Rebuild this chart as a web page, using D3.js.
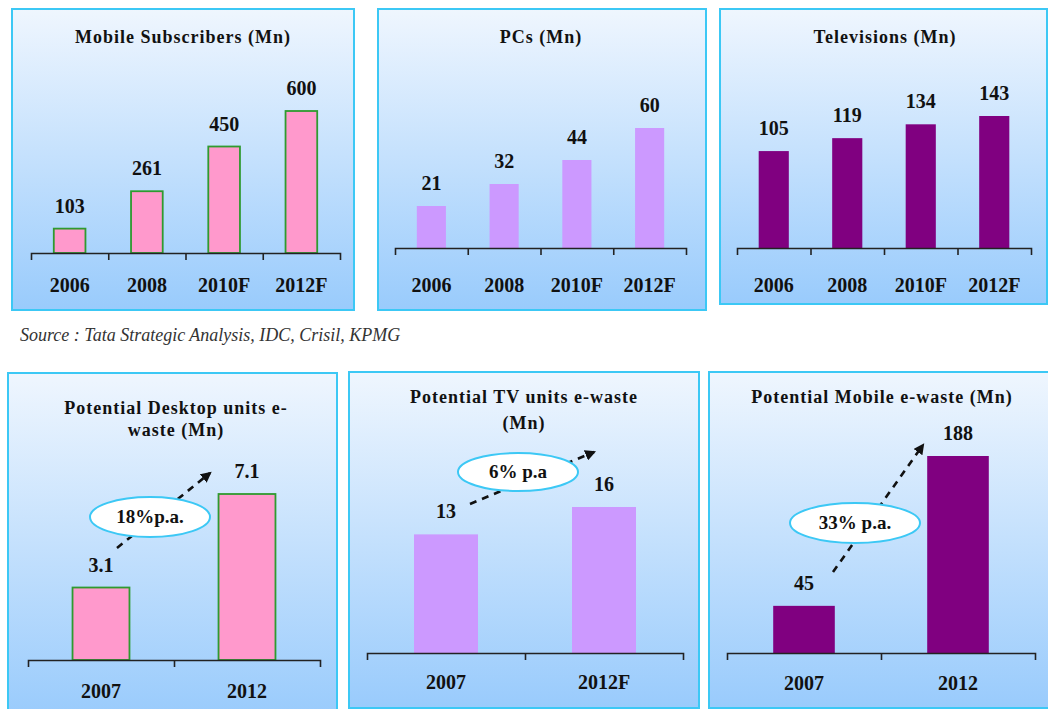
<!DOCTYPE html>
<html><head><meta charset="utf-8">
<script src="https://cdn.jsdelivr.net/npm/d3@7"></script>
<style>
body{margin:0;background:#fff}
svg{display:block}
svg text{font-family:"Liberation Serif","Times New Roman",Times,serif}
</style>
</head><body>
<svg id="chart" width="1048" height="709"></svg>
<script>
// ---- data ----
const mobileYears = ["2006", "2008", "2010F", "2012F"];
const mobileSubscribers = [103, 261, 450, 600];
const pcYears = ["2006", "2008", "2010F", "2012F"];
const pcUnits = [21, 32, 44, 60];
const tvYears = ["2006", "2008", "2010F", "2012F"];
const tvUnits = [105, 119, 134, 143];
const desktopWasteYears = ["2007", "2012"];
const desktopWaste = [3.1, 7.1];
const tvWasteYears = ["2007", "2012F"];
const tvWaste = [13, 16];
const mobileWasteYears = ["2007", "2012"];
const mobileWaste = [45, 188];
const growthLabels = ["18%p.a.", "6% p.a", "33% p.a."];
const sourceNote = "Source : Tata Strategic Analysis, IDC, Crisil, KPMG";

// ---- panel layout ----
const PINK = "#ff99cc", LILAC = "#cc99ff", PURPLE = "#800080";
const panels = [
  { title: ["Mobile Subscribers (Mn)"], cats: mobileYears, vals: mobileSubscribers,
    box: [12, 9, 342, 301], axisY: 253, axisX: [31, 340], maxH: 142, pad: 0.59,
    fill: PINK, stroke: "#2f9a2f", titleX: 183, titleY: [43], catDy: 39 },
  { title: ["PCs (Mn)"], cats: pcYears, vals: pcUnits,
    box: [378, 9, 328, 301], axisY: 248, axisX: [395, 686], maxH: 120, pad: 0.6,
    fill: LILAC, stroke: null, titleX: 541, titleY: [43], catDy: 44 },
  { title: ["Televisions (Mn)"], cats: tvYears, vals: tvUnits,
    box: [720, 9, 327, 295], axisY: 248, axisX: [737, 1031], maxH: 132, pad: 0.59,
    fill: PURPLE, stroke: null, titleX: 885, titleY: [43], catDy: 44 },
  { title: ["Potential Desktop units e-", "waste (Mn)"], cats: desktopWasteYears, vals: desktopWaste,
    box: [8, 373, 329, 345], axisY: 660, axisX: [28, 320], maxH: 166, pad: 0.61,
    fill: PINK, stroke: "#2f9a2f", titleX: 176, titleY: [414, 436], catDy: 38,
    growth: { text: growthLabels[0], cx: 150, cy: 517, rx: 60, ry: 20, from: [117, 548], to: [210, 473] } },
  { title: ["Potential TV units e-waste", "(Mn)"], cats: tvWasteYears, vals: tvWaste,
    box: [349, 372, 350, 336], axisY: 653, axisX: [367, 683], maxH: 146, pad: 0.595,
    fill: LILAC, stroke: null, titleX: 524, titleY: [403, 429], catDy: 36,
    growth: { text: growthLabels[1], cx: 518, cy: 472, rx: 60, ry: 19, from: [470, 504], to: [594, 452] } },
  { title: ["Potential Mobile e-waste (Mn)"], cats: mobileWasteYears, vals: mobileWaste,
    box: [709, 372, 345, 336], axisY: 653, axisX: [727, 1035], maxH: 197, pad: 0.6,
    fill: PURPLE, stroke: null, titleX: 882, titleY: [403], catDy: 37,
    growth: { text: growthLabels[2], cx: 855, cy: 523, rx: 65, ry: 20, from: [833, 572], to: [923, 445] } }
];

const svg = d3.select("#chart");
const defs = svg.append("defs");

const grad = defs.append("linearGradient")
  .attr("id", "panelBg").attr("x1", 0).attr("y1", 0).attr("x2", 0).attr("y2", 1);
grad.append("stop").attr("offset", "0%").attr("stop-color", "#eff6fe");
grad.append("stop").attr("offset", "100%").attr("stop-color", "#99cbfc");

defs.append("marker")
  .attr("id", "arrowHead").attr("viewBox", "0 0 10 10")
  .attr("refX", 8).attr("refY", 5)
  .attr("markerWidth", 4.2).attr("markerHeight", 4.2)
  .attr("markerUnits", "strokeWidth")
  .attr("orient", "auto")
  .append("path").attr("d", "M0,0 L10,5 L0,10 Z").attr("fill", "#111");

panels.forEach(p => {
  const g = svg.append("g");
  const [bx, by, bw, bh] = p.box;

  // panel frame with gradient fill
  g.append("rect")
    .attr("x", bx).attr("y", by).attr("width", bw).attr("height", bh)
    .attr("fill", "url(#panelBg)")
    .attr("stroke", "#3cc8f5").attr("stroke-width", 2);

  p.title.forEach((line, i) => {
    g.append("text")
      .attr("x", p.titleX).attr("y", p.titleY[i])
      .attr("text-anchor", "middle")
      .attr("font-weight", "bold")
      .attr("font-size", 18).attr("letter-spacing", 1)
      .attr("fill", "#111")
      .text(line);
  });

  // scales
  const x = d3.scaleBand().domain(p.cats).range(p.axisX)
    .paddingInner(p.pad).paddingOuter(p.pad / 2);
  const y = d3.scaleLinear().domain([0, d3.max(p.vals)]).range([p.axisY, p.axisY - p.maxH]);
  const rows = p.cats.map((c, i) => ({ cat: c, val: p.vals[i] }));

  // optional growth annotation: dashed arrow behind an ellipse badge
  if (p.growth) {
    const gr = p.growth;
    g.append("line")
      .attr("x1", gr.from[0]).attr("y1", gr.from[1])
      .attr("x2", gr.to[0]).attr("y2", gr.to[1])
      .attr("stroke", "#111").attr("stroke-width", 2.6)
      .attr("stroke-dasharray", "7,6")
      .attr("marker-end", "url(#arrowHead)");
  }

  // bars
  g.selectAll("rect.bar").data(rows).join("rect")
    .attr("class", "bar")
    .attr("x", d => x(d.cat)).attr("width", x.bandwidth())
    .attr("y", d => y(d.val)).attr("height", d => y(0) - y(d.val))
    .attr("fill", p.fill)
    .attr("stroke", p.stroke || "none").attr("stroke-width", p.stroke ? 1.8 : 0);

  // value labels
  g.selectAll("text.val").data(rows).join("text")
    .attr("class", "val")
    .attr("x", d => x(d.cat) + x.bandwidth() / 2)
    .attr("y", d => y(d.val) - 16)
    .attr("text-anchor", "middle")
    .attr("font-weight", "bold").attr("font-size", 20)
    .attr("fill", "#111")
    .text(d => d.val);

  // category axis: baseline with ticks at band boundaries
  const n = p.cats.length;
  const edge = d3.scaleLinear().domain([0, n]).range(p.axisX);
  const axis = d3.axisBottom(edge).tickValues(d3.range(1, n))
    .tickSize(7).tickSizeOuter(7).tickFormat("");
  const ax = g.append("g").attr("transform", `translate(0,${p.axisY})`).call(axis);
  ax.selectAll("path, line").attr("stroke", "#222").attr("stroke-width", 1.6);

  g.selectAll("text.cat").data(rows).join("text")
    .attr("class", "cat")
    .attr("x", d => x(d.cat) + x.bandwidth() / 2)
    .attr("y", p.axisY + p.catDy)
    .attr("text-anchor", "middle")
    .attr("font-weight", "bold").attr("font-size", 20)
    .attr("fill", "#111")
    .text(d => d.cat);

  if (p.growth) {
    const gr = p.growth;
    g.append("ellipse")
      .attr("cx", gr.cx).attr("cy", gr.cy).attr("rx", gr.rx).attr("ry", gr.ry)
      .attr("fill", "#fff").attr("stroke", "#3cc8f5").attr("stroke-width", 2);
    g.append("text")
      .attr("x", gr.cx).attr("y", gr.cy + 6)
      .attr("text-anchor", "middle")
      .attr("font-weight", "bold").attr("font-size", 19)
      .attr("fill", "#111")
      .text(gr.text);
  }
});

svg.append("text")
  .attr("x", 20).attr("y", 341)
  .attr("font-style", "italic").attr("font-size", 18)
  .attr("fill", "#333")
  .text(sourceNote);
</script>
</body></html>
